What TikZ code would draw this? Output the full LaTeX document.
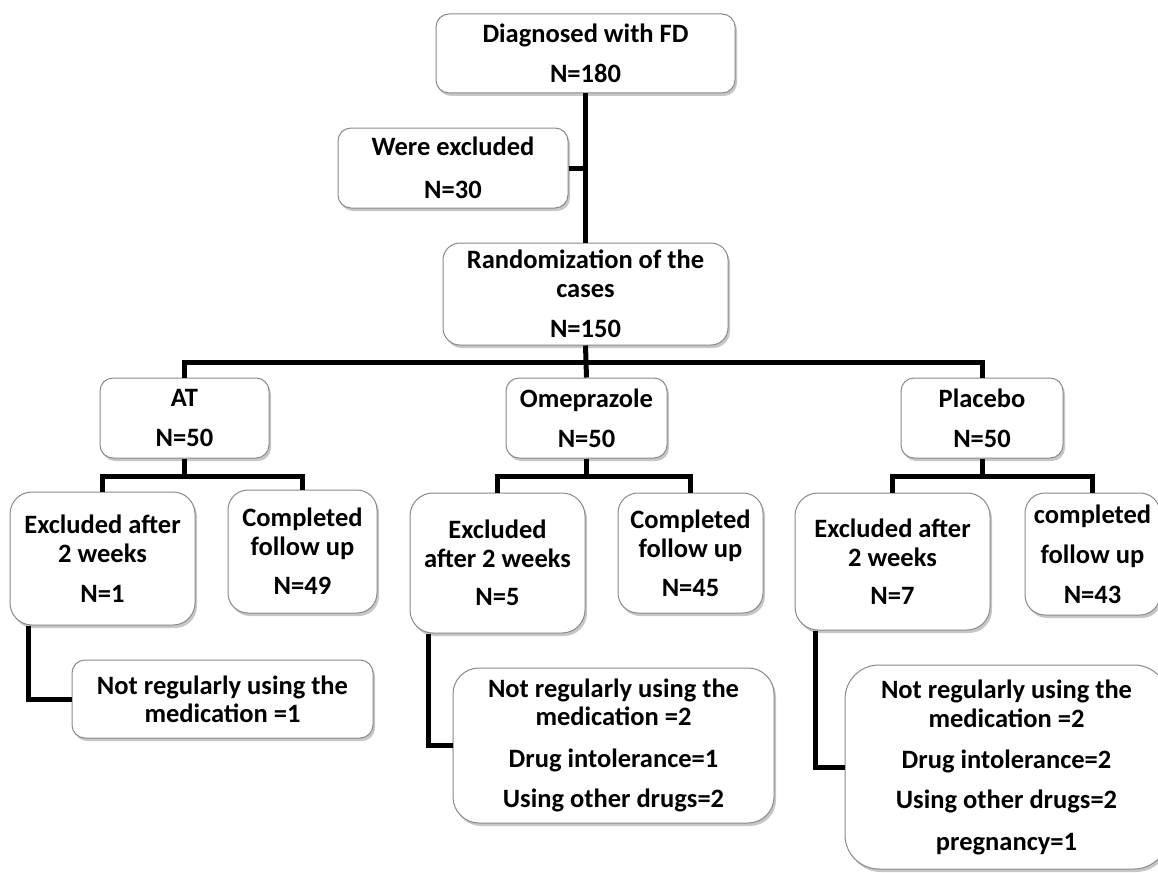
\documentclass[tikz,border=0pt]{standalone}
\usepackage{fontspec}
\setmainfont{Carlito}
\usetikzlibrary{shadows}
\definecolor{boxgray}{HTML}{8A8A8A}
\begin{document}
\begin{tikzpicture}[x=1pt,y=-1pt,
  box/.style={draw=boxgray, line width=1pt, fill=white, align=center, inner sep=0pt,
    font=\bfseries\fontsize{26.5}{29}\selectfont,
    drop shadow={shadow xshift=2pt, shadow yshift=-3pt, opacity=0.22, fill=black}},
  conn/.style={line width=5pt, line join=miter, draw=black}]
\fill[white] (0,0) rectangle (1158,872);
\useasboundingbox (0,0) rectangle (1158,872);

\node[box, minimum width=299pt, minimum height=79pt, rounded corners=13pt] (top) at (585.5,53.5) {Diagnosed with FD\\[11pt]N=180};
\node[box, minimum width=230pt, minimum height=80pt, rounded corners=13pt] (excl) at (453,168) {Were excluded\\[14pt]N=30};
\node[box, minimum width=285pt, minimum height=102pt, rounded corners=17pt] (rand) at (585.5,294) {Randomization of the\\cases\\[11pt]N=150};

\node[box, minimum width=169pt, minimum height=80pt, rounded corners=13pt] (at) at (184.5,418) {AT\\[11pt]N=50};
\node[box, minimum width=161pt, minimum height=80pt, rounded corners=13pt] (om) at (586.5,418) {Omeprazole\\[11pt]N=50};
\node[box, minimum width=162pt, minimum height=80pt, rounded corners=13pt] (pl) at (982,418) {Placebo\\[11pt]N=50};

\node[box, minimum width=185pt, minimum height=133pt, rounded corners=22pt] (atex) at (102.5,558.5) {Excluded after\\2 weeks\\[11pt]N=1};
\node[box, minimum width=149pt, minimum height=123pt, rounded corners=20pt] (atco) at (302.5,551.5) {Completed\\follow up\\[10pt]N=49};
\node[box, minimum width=301pt, minimum height=78pt, rounded corners=13pt] (atre) at (222.5,699) {Not regularly using the\\[-1pt]medication =1};

\node[box, minimum width=175pt, minimum height=140pt, rounded corners=23pt] (omex) at (497.5,563) {Excluded\\after 2 weeks\\[9pt]N=5};
\node[box, minimum width=145pt, minimum height=120pt, rounded corners=20pt] (omco) at (690.5,553) {Completed\\follow up\\[10pt]N=45};
\node[box, minimum width=321pt, minimum height=155pt, rounded corners=26pt] (omre) at (613.5,745.5) {Not regularly using the\\[-1pt]medication =2\\[13pt]Drug intolerance=1\\[11pt]Using other drugs=2};

\node[box, minimum width=195pt, minimum height=137pt, rounded corners=23pt] (plex) at (892.5,561.5) {Excluded after\\2 weeks\\[9pt]N=7};
\node[box, minimum width=135pt, minimum height=122pt, rounded corners=20pt] (plco) at (1092.5,554) {completed\\[11pt]follow up\\[11pt]N=43};
\node[box, minimum width=323pt, minimum height=204pt, rounded corners=34pt] (plre) at (1006.5,767) {Not regularly using the\\medication =2\\[12pt]Drug intolerance=2\\[11pt]Using other drugs=2\\[13pt]pregnancy=1};

\coordinate (bus1) at (585.5,362);
\coordinate (bus2) at (0,476);
\coordinate (xa) at (28,0);
\coordinate (xo) at (428,0);
\coordinate (xp) at (815,0);

\draw[conn] (top.south) -- (rand.north);
\draw[conn] (excl.east) -- (excl.east -| top.south);
\draw[conn] (rand.south) -- (om.north);
\draw[conn] (at.north) -- (at.north |- bus1) -- (pl.north |- bus1) -- (pl.north);

\draw[conn] (at.south) -- (at.south |- bus2);
\draw[conn] (atex.north) -- (atex.north |- bus2) -- (atco.north |- bus2) -- (atco.north);
\draw[conn] (om.south) -- (om.south |- bus2);
\draw[conn] (omex.north) -- (omex.north |- bus2) -- (omco.north |- bus2) -- (omco.north);
\draw[conn] (pl.south) -- (pl.south |- bus2);
\draw[conn] (plex.north) -- (plex.north |- bus2) -- (plco.north |- bus2) -- (plco.north);

\draw[conn] (xa |- atex.south) |- (atre.west);
\draw[conn] (xo |- omex.south) |- (omre.west);
\draw[conn] (xp |- plex.south) |- (plre.west);
\end{tikzpicture}
\end{document}
